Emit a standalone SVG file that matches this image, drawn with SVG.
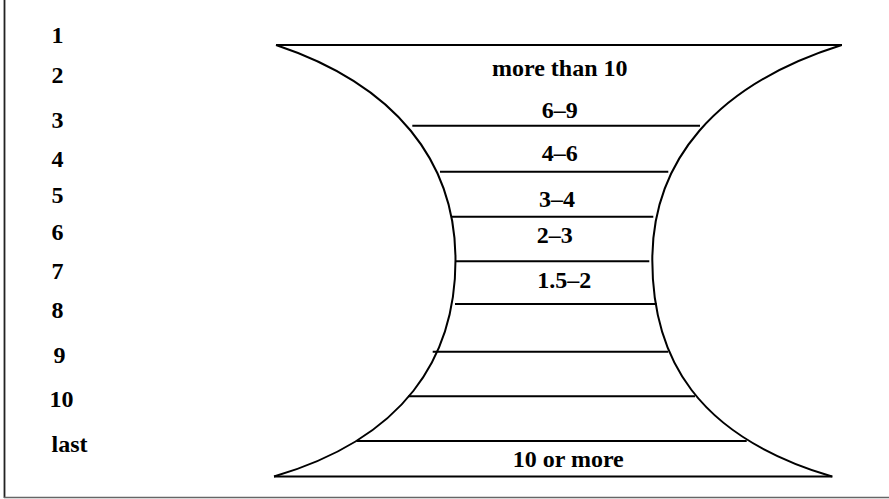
<svg xmlns="http://www.w3.org/2000/svg" width="889" height="499" viewBox="0 0 889 499">
<style>
.t{font-family:"Liberation Serif","Times New Roman",serif;font-weight:bold;font-size:24px;fill:#000}
.ln{stroke:#000;stroke-width:2;fill:none}
.cv{stroke:#000;stroke-width:2;fill:none}
</style>
<rect width="889" height="499" fill="#fff"/>
<g id="frame">
<line x1="4.5" y1="0" x2="4.5" y2="498" stroke="#222" stroke-width="1.8"/>
<line x1="4" y1="497.5" x2="889" y2="497.5" stroke="#666" stroke-width="1.5"/>
</g>
<g id="row-labels">
<text class="t" x="51.5" y="43.3">1</text>
<text class="t" x="51.5" y="83.3">2</text>
<text class="t" x="51.5" y="127.7">3</text>
<text class="t" x="51.5" y="166.7">4</text>
<text class="t" x="51.5" y="203.3">5</text>
<text class="t" x="51.5" y="240">6</text>
<text class="t" x="51.5" y="279.3">7</text>
<text class="t" x="51.5" y="318.3">8</text>
<text class="t" x="53.5" y="363.3">9</text>
<text class="t" x="49.5" y="407.3">10</text>
<text class="t" x="51.5" y="451.7">last</text>
</g>
<g id="vessel">
<line class="ln" x1="276" y1="45" x2="842" y2="45"/>
<line class="ln" x1="274" y1="476.5" x2="832.5" y2="476.5"/>
<path class="cv" d="M276,45 C396,85 455.5,162 455.5,260 C455.5,358 404,438.5 274,476.5"/>
<path class="cv" d="M841.7,45 C714.7,85 652.3,162 652.3,260 C652.3,358 697,436.5 832,476.5"/>
</g>
<g id="dividers">
<line class="ln" x1="412.3" y1="125.7" x2="700" y2="125.7"/>
<line class="ln" x1="440" y1="171.7" x2="668.3" y2="171.7"/>
<line class="ln" x1="451.7" y1="216.7" x2="653.3" y2="216.7"/>
<line class="ln" x1="455" y1="261.3" x2="649.3" y2="261.3"/>
<line class="ln" x1="455" y1="304" x2="656.7" y2="304"/>
<line class="ln" x1="432.7" y1="351.7" x2="668.3" y2="351.7"/>
<line class="ln" x1="408.3" y1="396.3" x2="695" y2="396.3"/>
<line class="ln" x1="356.7" y1="441" x2="746.7" y2="441"/>
</g>
<g id="band-labels">
<text class="t" x="492" y="75.7">more than 10</text>
<text class="t" x="541.7" y="118.3">6–9</text>
<text class="t" x="541.7" y="161">4–6</text>
<text class="t" x="539" y="206.7">3–4</text>
<text class="t" x="536.7" y="243.3">2–3</text>
<text class="t" x="537.3" y="287.7">1.5–2</text>
<text class="t" x="512.7" y="466.7">10 or more</text>
</g>
</svg>
